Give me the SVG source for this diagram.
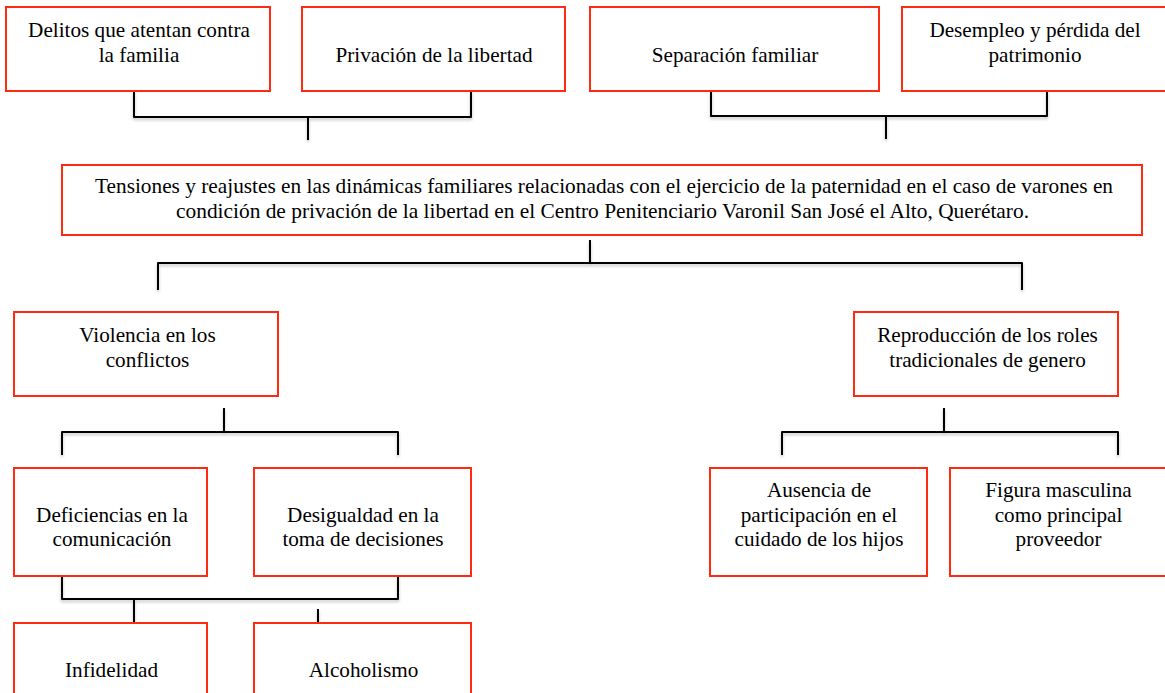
<svg xmlns="http://www.w3.org/2000/svg" width="1165" height="693" viewBox="0 0 1165 693">
<defs>
<filter id="sh" x="-5%" y="-5%" width="110%" height="130%">
<feDropShadow dx="0" dy="2" stdDeviation="1.5" flood-color="#000" flood-opacity="0.25"/>
</filter>
</defs>
<style>
.box{fill:#fff;stroke:#ff2a10;stroke-width:2}
text{fill:#000;text-anchor:middle;font-family:"Liberation Serif","Times New Roman",serif;font-size:21.2px}
.l{fill:none;stroke:#000;stroke-width:2;stroke-linejoin:round}
</style>
<rect width="1165" height="693" fill="#fff"/>
<g id="connectors" filter="url(#sh)">
<path class="l" d="M134,91V117H471V91M308,117V140"/>
<path class="l" d="M711,91V116H1047V91M886,116V139"/>
<path class="l" d="M590,240V263M158,290V263H1022V290"/>
<path class="l" d="M224,408V432M62,455V432H398V455"/>
<path class="l" d="M62,576V599H398V576M134,599V623M318,609V632"/>
<path class="l" d="M944,408V432M782,455V432H1118V455"/>
</g>
<g id="n1"><rect class="box" x="6" y="7" width="264" height="84"/>
<text x="139" y="37">Delitos que atentan contra</text><text x="139" y="62">la familia</text></g>
<g id="n2"><rect class="box" x="302" y="7" width="263" height="84"/>
<text x="434" y="62">Privación de la libertad</text></g>
<g id="n3"><rect class="box" x="590" y="7" width="289" height="84"/>
<text x="735" y="62">Separación familiar</text></g>
<g id="n4"><rect class="box" x="902" y="7" width="264" height="84"/>
<text x="1035" y="37">Desempleo y pérdida del</text><text x="1035" y="62">patrimonio</text></g>
<g id="main"><rect class="box" x="62" y="165" width="1080" height="70"/>
<text style="font-size:21px" x="604" y="193" textLength="1018" lengthAdjust="spacingAndGlyphs">Tensiones y reajustes en las dinámicas familiares relacionadas con el ejercicio de la paternidad en el caso de varones en</text>
<text style="font-size:21px" x="602.5" y="218" textLength="853" lengthAdjust="spacingAndGlyphs">condición de privación de la libertad en el Centro Penitenciario Varonil San José el Alto, Querétaro.</text></g>
<g id="n5"><rect class="box" x="14" y="312" width="264" height="84"/>
<text x="147.5" y="342">Violencia en los</text><text x="147.5" y="367">conflictos</text></g>
<g id="n6"><rect class="box" x="854" y="312" width="264" height="84"/>
<text x="987.5" y="342">Reproducción de los roles</text><text x="987.5" y="367">tradicionales de genero</text></g>
<g id="n7"><rect class="box" x="14" y="468" width="193" height="108"/>
<text x="112" y="522">Deficiencias en la</text><text x="112" y="546">comunicación</text></g>
<g id="n8"><rect class="box" x="254" y="468" width="217" height="108"/>
<text x="363" y="522">Desigualdad en la</text><text x="363" y="546">toma de decisiones</text></g>
<g id="n9"><rect class="box" x="710" y="468" width="217" height="108"/>
<text x="819" y="497">Ausencia de</text><text x="819" y="522">participación en el</text><text x="819" y="546">cuidado de los hijos</text></g>
<g id="n10"><rect class="box" x="950" y="468" width="216" height="108"/>
<text x="1058.5" y="497">Figura masculina</text><text x="1058.5" y="522">como principal</text><text x="1058.5" y="546">proveedor</text></g>
<g id="n11"><rect class="box" x="14" y="623" width="193" height="80"/>
<text x="111.5" y="677">Infidelidad</text></g>
<g id="n12"><rect class="box" x="254" y="623" width="217" height="80"/>
<text x="363.5" y="677">Alcoholismo</text></g>
</svg>
